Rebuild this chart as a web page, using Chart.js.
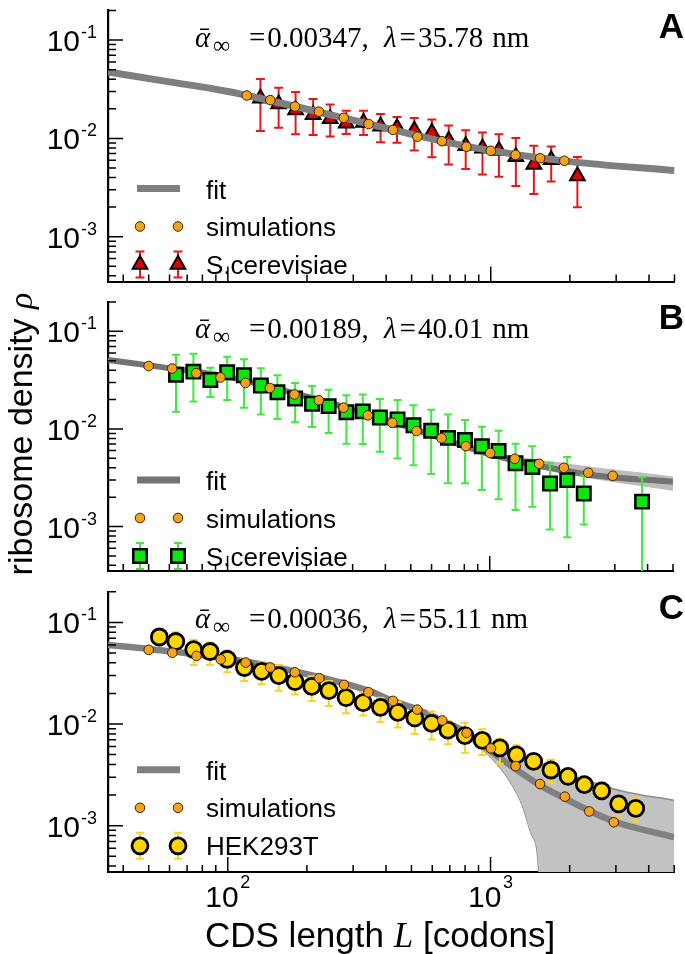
<!DOCTYPE html>
<html>
<head>
<meta charset="utf-8">
<title>Ribosome density vs CDS length</title>
<script src="https://cdn.jsdelivr.net/npm/chart.js@4.4.1/dist/chart.umd.min.js"></script>
<style>
  html, body { margin: 0; padding: 0; background: #fff; }
  #page { position: relative; width: 685px; height: 954px; overflow: hidden; }
  #page canvas { position: absolute; left: 0; }
  .axis-title { position: absolute; font-family: "Liberation Sans", Arial, sans-serif; color: #000; white-space: nowrap; }
  .axis-title i { font-family: "Liberation Serif", "DejaVu Serif", serif; }
  #ytitle { left: -140px; top: 415px; width: 320px; height: 38px; line-height: 38px; font-size: 34px; text-align: center; transform: rotate(-90deg); }
  #xtitle { left: 205px; top: 917px; font-size: 35px; line-height: 35px; }
</style>
</head>
<body>
<div id="page">
  <canvas id="panelA" width="685" height="292" style="top:0px"></canvas>
  <canvas id="panelB" width="685" height="293" style="top:290px"></canvas>
  <canvas id="panelC" width="685" height="373" style="top:581px"></canvas>
  <div id="ytitle" class="axis-title">ribosome density <i>ρ</i></div>
  <div id="xtitle" class="axis-title">CDS length <i>L</i> [codons]</div>
</div>
<script>
// Axis ranges and ticks
const L_MIN = 35, L_MAX = 5000;
const RHO_MIN = 3.5e-4, RHO_MAX = 0.2;
const xMajor = [100, 1000];
const xTickSup = ['2', '3'];
const xMinor = [40, 50, 60, 70, 80, 90, 200, 300, 400, 500, 600, 700, 800, 900, 2000, 3000, 4000, 5000];
const yMajor = [1e-3, 1e-2, 1e-1];
const yTickSup = ['-3', '-2', '-1'];
const yMinor = [4e-4, 5e-4, 6e-4, 7e-4, 8e-4, 9e-4, 2e-3, 3e-3, 4e-3, 5e-3, 6e-3, 7e-3, 8e-3, 9e-3,
                2e-2, 3e-2, 4e-2, 5e-2, 6e-2, 7e-2, 8e-2, 9e-2, 0.2];

// Panel texts
const panelTags = ['A', 'B', 'C'];
const alphaInf = ['0.00347,', '0.00189,', '0.00036,'];
const lambdaNm = ['35.78', '40.01', '55.11'];
const dataLabels = ['S.cerevisiae', 'S.cerevisiae', 'HEK293T'];

// Panel A
const simA_L   = [118, 145, 180, 222, 276, 343, 425, 526, 652, 808, 1000, 1242, 1541, 1905];
const simA_rho = [0.0273, 0.0245, 0.0211, 0.0187, 0.0162, 0.0140, 0.0122, 0.0104, 0.00937, 0.00822, 0.00748, 0.00679, 0.00628, 0.00592];
const expA_L   = [133, 156, 181, 211, 245, 282, 328, 381, 440, 512, 597, 692, 803, 930, 1074, 1246, 1459, 1698, 2136];
const expA_rho = [0.0256, 0.0224, 0.0194, 0.0174, 0.0158, 0.01427, 0.01449, 0.01328, 0.0128, 0.0121, 0.01147, 0.00951, 0.0084, 0.00792, 0.00753, 0.0065, 0.00543, 0.00605, 0.00415];
const expA_lo  = [0.0119, 0.0128, 0.0110, 0.01084, 0.01044, 0.01108, 0.01084, 0.00916, 0.00903, 0.00753, 0.00642, 0.00543, 0.00487, 0.0043, 0.00406, 0.00327, 0.00272, 0.00364, 0.00199];
const expA_hi  = [0.0402, 0.0327, 0.0296, 0.0252, 0.0221, 0.0191, 0.0191, 0.01775, 0.01652, 0.01616, 0.01556, 0.01349, 0.0121, 0.01147, 0.01099, 0.01007, 0.0084, 0.00827, 0.00646];
const fitA_L   = [35, 60, 100, 200, 400, 700, 1000, 2000, 5000];
const fitA_rho = [0.0474, 0.0376, 0.030, 0.0198, 0.0127, 0.0090, 0.0075, 0.0058, 0.0047];

// Panel B
const simB_L   = [50, 61.5, 76, 94, 117, 145, 180, 223, 277, 343, 425, 526, 655, 811, 1004, 1246, 1543, 1918, 2376, 2946];
const simB_rho = [0.0441, 0.0416, 0.0373, 0.0337, 0.0296, 0.0263, 0.02257, 0.01967, 0.01652, 0.01378, 0.01157, 0.00951, 0.00804, 0.00665, 0.00567, 0.00494, 0.00439, 0.0040, 0.00356, 0.00331];
const expB_L   = [63.6, 74.1, 86, 99.7, 115.5, 134, 155, 181, 210, 243, 284, 328, 381, 445, 512, 598, 693, 805, 933, 1081, 1254, 1454, 1698, 1975, 2284, 3811];
const expB_rho = [0.0360, 0.0387, 0.0318, 0.0381, 0.0355, 0.0279, 0.0238, 0.02055, 0.01815, 0.01714, 0.0148, 0.01514, 0.01308, 0.01252, 0.01091, 0.00957, 0.0081, 0.0077, 0.00665, 0.00596, 0.00446, 0.00406, 0.00276, 0.00299, 0.00218, 0.00180];
const expB_lo  = [0.01504, 0.0191, 0.0213, 0.0198, 0.01652, 0.0141, 0.01263, 0.01173, 0.01044, 0.0091, 0.00705, 0.0070, 0.00583, 0.00497, 0.00424, 0.00345, 0.00278, 0.00278, 0.00237, 0.0019, 0.00148, 0.00159, 0.000933, 0.000778, 0.00105, 0.0002];
const expB_hi  = [0.0577, 0.0590, 0.0425, 0.0549, 0.0517, 0.0419, 0.0355, 0.0296, 0.02747, 0.0252, 0.0221, 0.02257, 0.02024, 0.0198, 0.01752, 0.0157, 0.0141, 0.01236, 0.01051, 0.00957, 0.00705, 0.00665, 0.00446, 0.00516, 0.00334, 0.00322];
const fitB_L   = [35, 50, 100, 223, 431, 811, 1026, 2410, 5000];
const fitB_rho = [0.051, 0.0448, 0.0342, 0.0198, 0.0117, 0.0066, 0.0054, 0.0034, 0.00287];
const bandB_L  = [35, 100, 300, 600, 1000, 2000, 5000];
const bandB_hi = [0.0535, 0.0358, 0.0167, 0.0093, 0.0059, 0.0044, 0.00326];
const bandB_lo = [0.0487, 0.0327, 0.0152, 0.00815, 0.0051, 0.0034, 0.00232];

// Panel C
const simC_L   = [50, 61.5, 76, 94, 117, 145, 180, 223, 277, 343, 425, 526, 655, 811, 1004, 1246, 1543, 1918, 2376, 2946];
const simC_rho = [0.0537, 0.0503, 0.0468, 0.0432, 0.0402, 0.0360, 0.0323, 0.0283, 0.0243, 0.02055, 0.01689, 0.01387, 0.01084, 0.00816, 0.00576, 0.00385, 0.00257, 0.00193, 0.00138, 0.00108];
const expC_L   = [54.9, 63.4, 74.2, 85.6, 99.5, 115.7, 134.5, 156.3, 180.3, 208.7, 242.6, 282, 327.5, 381, 443.8, 515, 596.6, 688, 799, 930, 1085, 1256, 1459, 1698, 1972, 2275, 2649, 3073, 3569];
const expC_rho = [0.0718, 0.0649, 0.0540, 0.0517, 0.0434, 0.0360, 0.0330, 0.0300, 0.0261, 0.02343, 0.02133, 0.01815, 0.01627, 0.01459, 0.013, 0.01147, 0.01015, 0.00872, 0.0077, 0.0069, 0.00583, 0.00498, 0.0043, 0.00353, 0.00306, 0.00253, 0.0022, 0.00164, 0.00148];
const expC_lo  = [0.0599, 0.054, 0.0381, 0.0381, 0.0323, 0.0265, 0.0246, 0.0213, 0.01954, 0.01689, 0.01504, 0.0128, 0.0121, 0.01044, 0.00923, 0.00799, 0.00705, 0.00632, 0.00523, 0.00497, 0.00406, 0.0040, 0.00345, 0.00264, 0.00258, 0.00211, 0.002, 0.00125, 0.0011];
const expC_hi  = [0.0862, 0.080, 0.0672, 0.0635, 0.0528, 0.0441, 0.0404, 0.0381, 0.0330, 0.0296, 0.0265, 0.02243, 0.02055, 0.01815, 0.01652, 0.01396, 0.01328, 0.01068, 0.01029, 0.0089, 0.00716, 0.00619, 0.00508, 0.00446, 0.00358, 0.00306, 0.00268, 0.00196, 0.00186];
const fitC_L   = [35, 50, 100, 180, 343, 425, 526, 655, 811, 1004, 1246, 1543, 1918, 2376, 2946, 5000];
const fitC_rho = [0.0599, 0.0548, 0.0441, 0.0330, 0.0213, 0.0169, 0.0139, 0.0108, 0.0082, 0.0054, 0.0036, 0.0025, 0.00185, 0.0014, 0.0011, 0.00077];
const bandC_L  = [430, 574, 766, 883, 1019, 1177, 1319, 1438, 1523, 1600, 1809, 2410, 3207, 5000];
const bandC_hi = [0.0173, 0.0131, 0.0094, 0.0077, 0.0060, 0.0052, 0.0047, 0.0044, 0.0042, 0.0040, 0.0034, 0.0027, 0.00217, 0.00178];
const bandC_lo = [0.0161, 0.0121, 0.0082, 0.0063, 0.0045, 0.0028, 0.0016, 0.0008, 0.00038, 0.000001, 0.000001, 0.000001, 0.000001, 0.000001];

const SANS = '"Liberation Sans", Arial, sans-serif';
const SERIF = '"Liberation Serif", "DejaVu Serif", serif';

function pts(xs, ys) {
    return xs.map((v, i) => ({ x: v, y: ys[i] }));
}

function simSet(xs, ys) {
    return {
        label: 'simulations', data: pts(xs, ys), isSim: true,
        pointStyle: 'circle', pointRadius: 4.8,
        pointBackgroundColor: '#f7a21b', pointBorderColor: '#3d2300', pointBorderWidth: 1
    };
}

function fitSet(xs, ys, color, width) {
    return {
        label: 'fit', data: pts(xs, ys), isFit: true, showLine: true,
        borderColor: color, borderWidth: width, pointRadius: 0,
        cubicInterpolationMode: 'monotone', fill: false
    };
}

function expSet(label, xs, ys, lo, hi, style) {
    return Object.assign({
        label: label, data: pts(xs, ys), errLo: lo, errHi: hi
    }, style);
}

function bandSets(xs, hi, lo, fillColor, edgeColor, edgeWidth) {
    return [
        { label: 'band+', data: pts(xs, hi), showLine: true, pointRadius: 0, borderColor: edgeColor,
          borderWidth: edgeWidth, backgroundColor: fillColor, fill: '+1', cubicInterpolationMode: 'monotone' },
        { label: 'band-', data: pts(xs, lo), showLine: true, pointRadius: 0, borderColor: edgeColor,
          borderWidth: edgeWidth, fill: false, cubicInterpolationMode: 'monotone' }
    ];
}

function errBar(ctx, x, y1, y2, cap) {
    ctx.moveTo(x, y1); ctx.lineTo(x, y2);
    ctx.moveTo(x - cap / 2, y1); ctx.lineTo(x + cap / 2, y1);
    ctx.moveTo(x - cap / 2, y2); ctx.lineTo(x + cap / 2, y2);
}

// draws text pieces one after another, returns end x
function runText(ctx, x, y, text, font) {
    ctx.font = font;
    ctx.fillText(text, x, y);
    return x + ctx.measureText(text).width;
}

// Error bars, ticks, tick labels, legend and panel texts
const decoPlugin = {
    id: 'deco',
    beforeDatasetDraw(chart, args) {
        const ds = chart.data.datasets[args.index];
        if (!ds.errLo) return;
        const { ctx, chartArea: a, scales: { x, y } } = chart;
        ctx.save();
        ctx.beginPath();
        ctx.rect(a.left, a.top, a.right - a.left, a.bottom - a.top);
        ctx.clip();
        ctx.strokeStyle = ds.errColor;
        ctx.lineWidth = 2;
        ctx.beginPath();
        ds.data.forEach((p, i) => {
            errBar(ctx, x.getPixelForValue(p.x), y.getPixelForValue(ds.errLo[i]), y.getPixelForValue(ds.errHi[i]), ds.capW);
        });
        ctx.stroke();
        ctx.restore();
    },
    afterDraw(chart, args, o) {
        const { ctx, chartArea: a, scales: { x, y } } = chart;
        const sets = chart.data.datasets;
        ctx.save();

        // tick marks pointing inwards
        ctx.strokeStyle = '#000';
        ctx.lineWidth = 1.5;
        ctx.beginPath();
        yMajor.forEach(v => { const py = y.getPixelForValue(v); ctx.moveTo(a.left, py); ctx.lineTo(a.left + 15, py); });
        yMinor.forEach(v => { const py = y.getPixelForValue(v); ctx.moveTo(a.left, py); ctx.lineTo(a.left + 8, py); });
        xMajor.forEach(v => { const px = x.getPixelForValue(v); ctx.moveTo(px, a.bottom); ctx.lineTo(px, a.bottom - 15); });
        xMinor.forEach(v => { const px = x.getPixelForValue(v); ctx.moveTo(px, a.bottom); ctx.lineTo(px, a.bottom - 7); });
        ctx.stroke();

        // y tick labels 10^n
        ctx.fillStyle = '#000';
        ctx.textBaseline = 'alphabetic';
        ctx.textAlign = 'left';
        yMajor.forEach((v, i) => {
            const py = y.getPixelForValue(v);
            ctx.font = '18px ' + SANS;
            const ws = ctx.measureText(yTickSup[i]).width;
            ctx.fillText(yTickSup[i], 97 - ws, py - 2);
            ctx.font = '30px ' + SANS;
            const wb = ctx.measureText('10').width;
            ctx.fillText('10', 97 - ws - 1 - wb, py + 11);
        });

        // x tick labels (bottom panel only)
        if (o.xLabels) {
            xMajor.forEach((v, i) => {
                const px = x.getPixelForValue(v);
                ctx.font = '30px ' + SANS;
                const wb = ctx.measureText('10').width;
                ctx.font = '18px ' + SANS;
                const ws = ctx.measureText(xTickSup[i]).width;
                const x0 = px - (wb + 1.5 + ws) / 2;
                ctx.fillText(xTickSup[i], x0 + wb + 1.5, a.bottom + 16);
                ctx.font = '30px ' + SANS;
                ctx.fillText('10', x0, a.bottom + 35);
            });
        }

        // legend
        const fit = sets.find(d => d.isFit);
        const sim = sets.find(d => d.isSim);
        const exp = sets.find(d => d.errLo);
        const r1 = a.top + 178, r2 = a.top + 216, r3 = a.top + 254;
        const mx = [140, 178];
        ctx.strokeStyle = fit.borderColor;
        ctx.lineWidth = 7;
        ctx.beginPath(); ctx.moveTo(137, r1); ctx.lineTo(180, r1); ctx.stroke();
        mx.forEach(px => {
            ctx.fillStyle = sim.pointBackgroundColor;
            ctx.strokeStyle = sim.pointBorderColor;
            ctx.lineWidth = sim.pointBorderWidth;
            Chart.helpers.drawPoint(ctx, { pointStyle: 'circle', radius: sim.pointRadius, borderWidth: sim.pointBorderWidth }, px, r2);
        });
        ctx.strokeStyle = exp.errColor;
        ctx.lineWidth = 2;
        ctx.beginPath();
        mx.forEach(px => errBar(ctx, px, r3 - 13, r3 + 13, exp.capW));
        ctx.stroke();
        mx.forEach(px => {
            ctx.fillStyle = exp.pointBackgroundColor;
            ctx.strokeStyle = exp.pointBorderColor;
            ctx.lineWidth = exp.pointBorderWidth;
            Chart.helpers.drawPoint(ctx, { pointStyle: exp.pointStyle, radius: exp.pointRadius, borderWidth: exp.pointBorderWidth }, px, r3);
        });
        ctx.fillStyle = '#000';
        ctx.font = '26px ' + SANS;
        ctx.fillText('fit', 206, r1 + 10);
        ctx.fillText('simulations', 206, r2 + 9.5);
        ctx.fillText(o.dataLabel, 206, r3 + 9.5);

        // annotation  alpha_inf =..., lambda=... nm
        const base = a.top + 36;
        const f = '29px ' + SERIF, fi = 'italic 29px ' + SERIF;
        runText(ctx, 195, base, 'ᾱ', fi);
        runText(ctx, 213, base + 6, '∞', '24px ' + SERIF);
        let cx = runText(ctx, 249, base, '=', f);
        runText(ctx, cx + 2, base, o.alpha, f);
        cx = runText(ctx, 384, base, 'λ', fi);
        cx = runText(ctx, cx + 3, base, '=', f);
        cx = runText(ctx, cx + 2, base, o.lambda, f);
        runText(ctx, cx + 9, base, 'nm', f);

        // panel letter
        ctx.font = 'bold 35px ' + SANS;
        ctx.textAlign = 'right';
        ctx.fillText(o.tag, 684, a.top + 27);
        ctx.restore();
    }
};

function makePanel(id, idx, xAxisH, datasets) {
    return new Chart(document.getElementById(id), {
        type: 'scatter',
        data: { datasets: datasets },
        options: {
            responsive: false,
            animation: false,
            events: [],
            layout: { padding: 0 },
            plugins: {
                legend: { display: false },
                tooltip: { enabled: false },
                deco: {
                    tag: panelTags[idx], alpha: alphaInf[idx], lambda: lambdaNm[idx],
                    dataLabel: dataLabels[idx], xLabels: idx === 2
                }
            },
            scales: {
                x: {
                    type: 'logarithmic', min: L_MIN, max: L_MAX, position: 'bottom',
                    grid: { display: false },
                    border: { display: true, color: '#000', width: 2 },
                    ticks: { display: false },
                    afterFit: s => { s.height = xAxisH; }
                },
                y: {
                    type: 'logarithmic', min: RHO_MIN, max: RHO_MAX, position: 'left',
                    grid: { display: false },
                    border: { display: true, color: '#000', width: 2.2 },
                    ticks: { display: false },
                    afterFit: s => { s.width = 108; }
                }
            }
        },
        plugins: [decoPlugin]
    });
}

const triangleStyle = {
    pointStyle: 'triangle', pointRadius: 8.5, pointBackgroundColor: '#e10000',
    pointBorderColor: '#000', pointBorderWidth: 2, errColor: '#e8161c', capW: 9
};
const squareStyle = {
    pointStyle: 'rect', pointRadius: 9.5, pointBackgroundColor: '#10e410',
    pointBorderColor: '#000', pointBorderWidth: 2.5, errColor: '#3ee83e', capW: 8
};
const circleStyle = {
    pointStyle: 'circle', pointRadius: 8, pointBackgroundColor: '#ffd500',
    pointBorderColor: '#000', pointBorderWidth: 2.8, errColor: '#f9d323', capW: 8
};

makePanel('panelA', 0, 2, [
    simSet(simA_L, simA_rho),
    fitSet(fitA_L, fitA_rho, '#7f7f7f', 7),
    expSet(dataLabels[0], expA_L, expA_rho, expA_lo, expA_hi, triangleStyle)
]);

makePanel('panelB', 1, 2, [
    simSet(simB_L, simB_rho),
    expSet(dataLabels[1], expB_L, expB_rho, expB_lo, expB_hi, squareStyle),
    fitSet(fitB_L, fitB_rho, '#737373', 6)
].concat(bandSets(bandB_L, bandB_hi, bandB_lo, '#bdbdbd', 'rgba(0,0,0,0)', 0)));

makePanel('panelC', 2, 82, [
    simSet(simC_L, simC_rho),
    expSet(dataLabels[2], expC_L, expC_rho, expC_lo, expC_hi, circleStyle),
    fitSet(fitC_L, fitC_rho, '#808080', 6.5)
].concat(bandSets(bandC_L, bandC_hi, bandC_lo, '#c2c2c2', '#8c8c8c', 1.5)));
</script>
</body>
</html>
